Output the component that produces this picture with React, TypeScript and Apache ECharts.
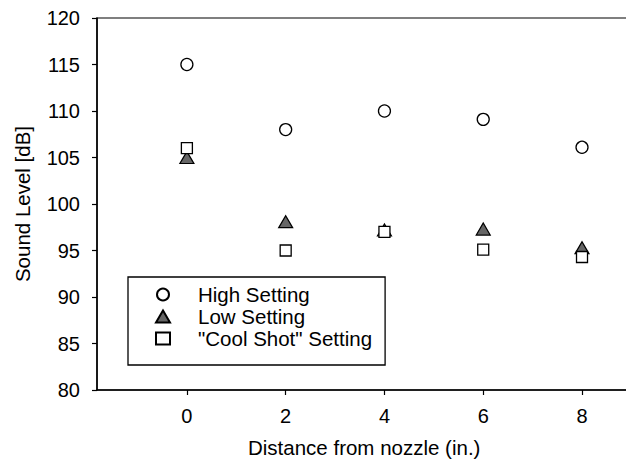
import React, { useEffect, useRef } from "react";
import * as echarts from "echarts";

const xTicks = [0, 2, 4, 6, 8];
const distances = [0, 2, 4, 6, 8];
const highSetting = [115, 108, 110, 109.1, 106.1];
const lowSetting = [105, 98.1, 97.2, 97.3, 95.3];
const coolShotSetting = [106, 95, 97, 95.1, 94.3];
const seriesNames = ["High Setting", "Low Setting", "\"Cool Shot\" Setting"];

const FONT = "'Liberation Sans', Arial, Helvetica, sans-serif";

export default function App() {
  const ref = useRef<HTMLDivElement>(null);
  useEffect(() => {
    if (!ref.current) return;
    const chart = echarts.init(ref.current, undefined, { renderer: "svg" });
    const toPts = (arr: number[]) => distances.map((x, i) => [x, arr[i]]);
    chart.setOption({
      animation: false,
      backgroundColor: "#ffffff",
      textStyle: { fontFamily: FONT, color: "#000" },
      grid: {
        left: 97,
        right: -5.4,
        top: 18,
        bottom: 69,
        containLabel: false,
        outerBoundsMode: "none",
        show: true,
        borderColor: "#000",
        borderWidth: 1.2,
        backgroundColor: "transparent",
      },
      xAxis: {
        type: "value",
        min: -1.82,
        max: 9,
        name: "Distance from nozzle (in.)",
        nameLocation: "middle",
        nameGap: 47,
        nameTextStyle: { fontSize: 20.5, color: "#000", fontFamily: FONT },
        axisLine: { show: true, onZero: false, lineStyle: { color: "#000", width: 1.5 } },
        axisTick: { show: true, length: 5, customValues: xTicks, lineStyle: { color: "#000", width: 1.2 } },
        axisLabel: { customValues: xTicks, margin: 16, fontSize: 20, color: "#000", fontFamily: FONT },
        splitLine: { show: false },
      },
      yAxis: {
        type: "value",
        min: 80,
        max: 120,
        interval: 5,
        name: "Sound Level [dB]",
        nameLocation: "middle",
        nameGap: 64,
        nameTextStyle: { fontSize: 20.5, color: "#000", fontFamily: FONT },
        axisLine: { show: true, onZero: false, lineStyle: { color: "#000", width: 1.5 } },
        axisTick: { show: true, length: 5, lineStyle: { color: "#000", width: 1.2 } },
        axisLabel: { margin: 17, fontSize: 20, color: "#000", fontFamily: FONT },
        splitLine: { show: false },
      },
      legend: {
        orient: "vertical",
        left: 128,
        top: 277,
        padding: [7, 13, 16, 27],
        itemWidth: 14,
        itemHeight: 12,
        itemGap: 1,
        borderColor: "#000",
        borderWidth: 1.3,
        borderRadius: 0,
        backgroundColor: "#fff",
        textStyle: { fontSize: 20.5, lineHeight: 20, color: "#000", fontFamily: FONT, padding: [0, 0, 0, 23] },
        data: seriesNames,
      },
      series: [
        {
          name: seriesNames[0],
          type: "scatter",
          symbol: "circle",
          symbolSize: 12,
          itemStyle: { color: "#fff", borderColor: "#000", borderWidth: 1.3, opacity: 1 },
          data: toPts(highSetting),
        },
        {
          name: seriesNames[1],
          type: "scatter",
          symbol: "triangle",
          symbolSize: [14, 12],
          itemStyle: { color: "#666", borderColor: "#000", borderWidth: 1.2, opacity: 1 },
          data: toPts(lowSetting),
        },
        {
          name: seriesNames[2],
          type: "scatter",
          symbol: "rect",
          symbolSize: 11,
          itemStyle: { color: "#fff", borderColor: "#000", borderWidth: 1.3, opacity: 1 },
          data: toPts(coolShotSetting),
        },
      ],
    });
    return () => chart.dispose();
  }, []);
  return (
    <div
      ref={ref}
      style={{ position: "fixed", left: 0, top: 0, width: 626, height: 459 }}
    />
  );
}
